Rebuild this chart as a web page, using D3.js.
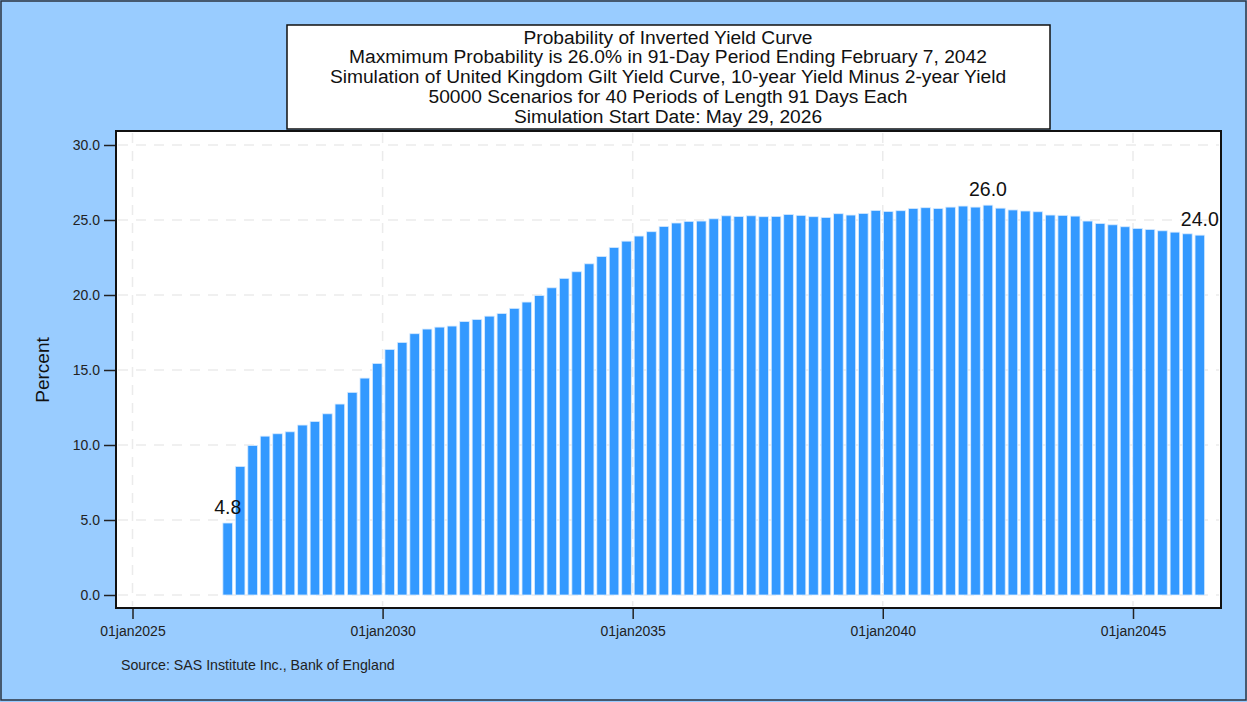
<!DOCTYPE html>
<html>
<head>
    <title>Probability of Inverted Yield Curve</title>
    <script type="text/javascript" src="https://d3js.org/d3.v7.min.js"></script>
    <style>
        body { margin: 0; background: #99ccff; }
        text { font-family: "Liberation Sans", Arial, sans-serif; }
    </style>
</head>
<body>
<script>
    // simulation setup (from the title)
    var startDate = new Date(2026, 4, 29);
    var periodDays = 91;
    // first drawn bar is period 2, last is period 80
    var firstPeriod = 2;

    // probability (percent) per 91-day period
    var probs = [4.80, 8.57, 9.97, 10.59, 10.75, 10.88, 11.33, 11.57, 12.08, 12.73,
                 13.51, 14.46, 15.44, 16.37, 16.84, 17.42, 17.73, 17.86, 17.93, 18.23,
                 18.37, 18.59, 18.77, 19.11, 19.53, 19.97, 20.48, 21.11, 21.55, 22.08,
                 22.57, 23.17, 23.59, 23.93, 24.22, 24.57, 24.80, 24.91, 24.93, 25.08,
                 25.28, 25.24, 25.28, 25.22, 25.24, 25.37, 25.31, 25.22, 25.17, 25.42,
                 25.33, 25.44, 25.64, 25.57, 25.62, 25.77, 25.82, 25.77, 25.86, 25.93,
                 25.86, 25.99, 25.79, 25.67, 25.60, 25.55, 25.33, 25.31, 25.26, 24.93,
                 24.77, 24.68, 24.55, 24.44, 24.37, 24.28, 24.19, 24.08, 23.99];

    var yTicks = [0, 5, 10, 15, 20, 25, 30];
    var xTickYears = [2025, 2030, 2035, 2040, 2045];

    var titleLines = [
        "Probability of Inverted Yield Curve",
        "Maxmimum Probability is 26.0% in 91-Day Period Ending February 7, 2042",
        "Simulation of United Kingdom Gilt Yield Curve, 10-year Yield Minus 2-year Yield",
        "50000 Scenarios for 40 Periods of Length 91 Days Each",
        "Simulation Start Date: May 29, 2026"
    ];
    var sourceText = "Source: SAS Institute Inc., Bank of England";

    var data = probs.map(function(v, i) {
        return {date: d3.timeDay.offset(startDate, periodDays * (firstPeriod + i)), value: v};
    });

    var W = 1247, H = 702;
    var plot = {left: 116, right: 1221, top: 131, bottom: 608};

    var svg = d3.select("body").append("svg")
                .attr("width", W)
                .attr("height", H);

    // outer frame
    svg.append("rect")
        .attr("x", 1).attr("y", 1)
        .attr("width", W - 2).attr("height", H - 3)
        .attr("fill", "#99ccff")
        .attr("stroke", "#2b3340")
        .attr("stroke-width", 1.5);

    var xScale = d3.scaleTime()
                   .domain([new Date(2025, 0, 1), new Date(2045, 0, 1)])
                   .range([132.5, 1133]);
    var yScale = d3.scaleLinear().domain([0, 30]).range([595, 145]);

    // plot background
    svg.append("rect")
        .attr("x", plot.left).attr("y", plot.top)
        .attr("width", plot.right - plot.left)
        .attr("height", plot.bottom - plot.top)
        .attr("fill", "white");

    // dashed grid lines
    svg.append("g").selectAll("line")
        .data(yTicks)
        .enter().append("line")
        .attr("x1", plot.left + 2).attr("x2", plot.right - 2)
        .attr("y1", function(d) { return yScale(d); })
        .attr("y2", function(d) { return yScale(d); })
        .attr("stroke", "#ebebeb")
        .attr("stroke-width", 1.5)
        .attr("stroke-dasharray", "10,8");

    svg.append("g").selectAll("line")
        .data(xTickYears)
        .enter().append("line")
        .attr("x1", function(d) { return xScale(new Date(d, 0, 1)); })
        .attr("x2", function(d) { return xScale(new Date(d, 0, 1)); })
        .attr("y1", plot.top + 2).attr("y2", plot.bottom - 2)
        .attr("stroke", "#ebebeb")
        .attr("stroke-width", 1.5)
        .attr("stroke-dasharray", "10,8");

    // bars
    var barW = 9.6;
    svg.append("g").selectAll("rect")
        .data(data)
        .enter().append("rect")
        .attr("x", function(d) { return xScale(d.date) - barW / 2; })
        .attr("y", function(d) { return yScale(d.value); })
        .attr("width", barW)
        .attr("height", function(d) { return yScale(0) - yScale(d.value); })
        .attr("fill", "#3399ff")
        .attr("stroke", "#d6eaff")
        .attr("stroke-width", 0.8);

    // value labels: first, maximum, last
    var maxD = data.reduce(function(a, b) { return b.value > a.value ? b : a; });
    var labelled = [data[0], maxD, data[data.length - 1]];
    svg.append("g").selectAll("text")
        .data(labelled)
        .enter().append("text")
        .attr("x", function(d) { return xScale(d.date); })
        .attr("y", function(d) { return yScale(d.value) - 9; })
        .attr("text-anchor", "middle")
        .attr("font-size", "19.5px")
        .attr("fill", "#111")
        .text(function(d) { return d3.format(".1f")(d.value); });

    // frame of plot area
    svg.append("rect")
        .attr("x", plot.left).attr("y", plot.top)
        .attr("width", plot.right - plot.left)
        .attr("height", plot.bottom - plot.top)
        .attr("fill", "none")
        .attr("stroke", "#111")
        .attr("stroke-width", 2);

    // y axis ticks and labels
    var yAxis = d3.axisLeft(yScale)
                  .tickValues(yTicks)
                  .tickSize(11)
                  .tickPadding(4)
                  .tickFormat(d3.format(".1f"));
    var gy = svg.append("g")
                .attr("transform", "translate(" + (plot.left - 1) + ",0)")
                .call(yAxis);
    gy.select(".domain").remove();
    gy.selectAll("line").attr("stroke", "#222").attr("stroke-width", 1.5);
    gy.selectAll("text")
        .attr("font-size", "14px")
        .attr("fill", "#222")
        .style("font-family", "'Liberation Sans', Arial, sans-serif");

    // x axis ticks and labels
    var xAxis = d3.axisBottom(xScale)
                  .tickValues(xTickYears.map(function(y) { return new Date(y, 0, 1); }))
                  .tickSize(10)
                  .tickPadding(7)
                  .tickFormat(function(d) { return "01jan" + d.getFullYear(); });
    var gx = svg.append("g")
                .attr("transform", "translate(0," + (plot.bottom + 1) + ")")
                .call(xAxis);
    gx.select(".domain").remove();
    gx.selectAll("line").attr("stroke", "#222").attr("stroke-width", 1.5);
    gx.selectAll("text")
        .attr("font-size", "14px")
        .attr("fill", "#222")
        .style("font-family", "'Liberation Sans', Arial, sans-serif");

    // y axis title
    svg.append("text")
        .attr("transform", "translate(49,370) rotate(-90)")
        .attr("text-anchor", "middle")
        .attr("font-size", "19px")
        .attr("fill", "#111")
        .text("Percent");

    // title box
    svg.append("rect")
        .attr("x", 287).attr("y", 25)
        .attr("width", 763).attr("height", 104)
        .attr("fill", "white")
        .attr("stroke", "#111")
        .attr("stroke-width", 1.5);

    svg.append("g").selectAll("text")
        .data(titleLines)
        .enter().append("text")
        .attr("x", 668)
        .attr("y", function(d, i) { return 43.5 + i * 19.75; })
        .attr("text-anchor", "middle")
        .attr("font-size", "19.2px")
        .attr("fill", "#111")
        .text(function(d) { return d; });

    // source note
    svg.append("text")
        .attr("x", 121).attr("y", 670)
        .attr("font-size", "14.2px")
        .attr("fill", "#222")
        .text(sourceText);
</script>
</body>
</html>
